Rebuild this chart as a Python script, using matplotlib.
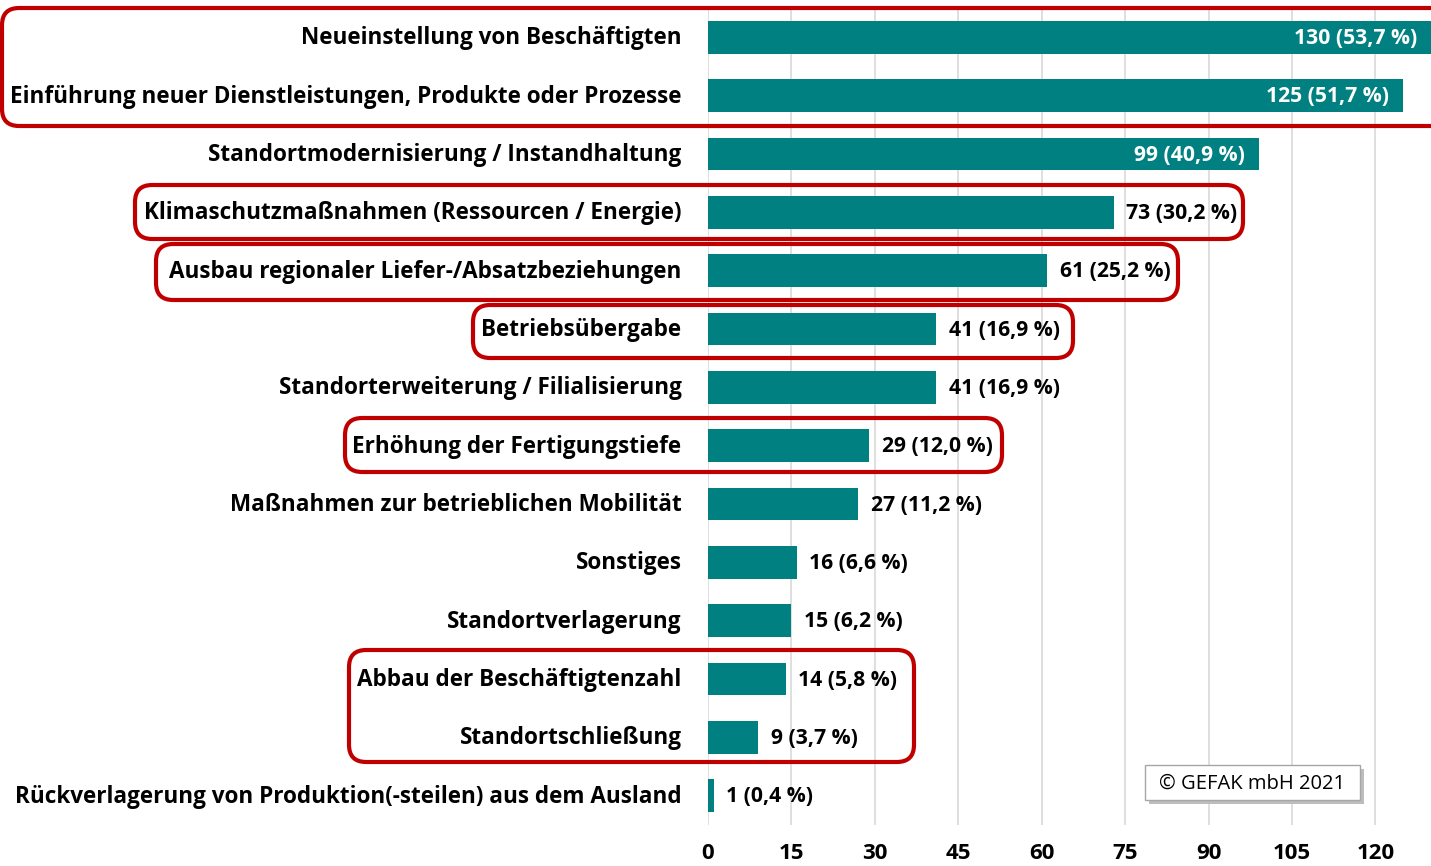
import matplotlib
matplotlib.use("Agg")
import matplotlib.pyplot as plt
from matplotlib.patches import FancyBboxPatch
from matplotlib.textpath import TextPath
from matplotlib.font_manager import FontProperties
from matplotlib.transforms import ScaledTranslation

categories = [
    "Neueinstellung von Beschäftigten",
    "Einführung neuer Dienstleistungen, Produkte oder Prozesse",
    "Standortmodernisierung / Instandhaltung",
    "Klimaschutzmaßnahmen (Ressourcen / Energie)",
    "Ausbau regionaler Liefer-/Absatzbeziehungen",
    "Betriebsübergabe",
    "Standorterweiterung / Filialisierung",
    "Erhöhung der Fertigungstiefe",
    "Maßnahmen zur betrieblichen Mobilität",
    "Sonstiges",
    "Standortverlagerung",
    "Abbau der Beschäftigtenzahl",
    "Standortschließung",
    "Rückverlagerung von Produktion(-steilen) aus dem Ausland",
]
counts = [130, 125, 99, 73, 61, 41, 41, 29, 27, 16, 15, 14, 9, 1]
percents = [53.7, 51.7, 40.9, 30.2, 25.2, 16.9, 16.9, 12.0, 11.2, 6.6, 6.2, 5.8, 3.7, 0.4]
xticks = [0, 15, 30, 45, 60, 75, 90, 105, 120]

TEAL = "#008080"
RED = "#C00000"
FONT = "Open Sans"


def fit_size(text, target_px, weight="bold"):
    fp = FontProperties(family=FONT, weight=weight, size=10)
    w = TextPath((0, 0), text, prop=fp).get_extents().width  # in points at size 10
    return 10 * target_px / (w * 100 / 72)


W, H = 1431, 866
fig = plt.figure(figsize=(W / 100, H / 100), dpi=100)
ax = fig.add_axes([708 / W, 1 - 825 / H, 1 - 708 / W, (825 - 8) / H])

cat_fs = fit_size(categories[1], 670)
val_fs = fit_size("130 (53,7 %)", 121)
tick_fs = fit_size("120", 36)
copy_fs = fit_size("© GEFAK mbH 2021", 180, weight="normal")

y = list(range(len(categories)))
ax.barh(y, counts, height=0.56, color=TEAL, zorder=2)
ax.set_ylim(len(categories) - 0.5, -0.5)
ax.set_xlim(0, 130)
ax.set_xticks(xticks)
ax.set_xticklabels([str(t) for t in xticks], fontfamily=FONT, fontweight="bold", fontsize=tick_fs)
ax.set_yticks(y)
ax.set_yticklabels(categories, fontfamily=FONT, fontweight="bold", fontsize=cat_fs)
ax.tick_params(axis="both", length=0)
ax.tick_params(axis="x", pad=13)
ax.tick_params(axis="y", pad=19)
shift = ScaledTranslation(0, 2 / 100, fig.dpi_scale_trans)
for lab in ax.get_yticklabels():
    lab.set_transform(lab.get_transform() + shift)
for s in ax.spines.values():
    s.set_visible(False)
ax.grid(axis="x", color="#d9d9d9", linewidth=1.2, zorder=0)
ax.set_axisbelow(True)

for yi, c, p in zip(y, counts, percents):
    txt = f"{c} ({p:.1f} %)".replace(".", ",")
    if c >= 90:
        ax.annotate(txt, (c, yi), xytext=(-10, -0.8), textcoords="offset points",
                    ha="right", va="center", color="white", fontfamily=FONT,
                    fontweight="bold", fontsize=val_fs)
    else:
        ax.annotate(txt, (c, yi), xytext=(9, -0.8), textcoords="offset points",
                    ha="left", va="center", color="black", fontfamily=FONT,
                    fontweight="bold", fontsize=val_fs)

# red highlight boxes (pixel coordinates from top-left)
boxes = [
    (2, 8, 1450, 126),
    (135, 185, 1243, 239),
    (156, 244, 1178, 300),
    (473, 305, 1073, 358),
    (345, 418, 1002, 472),
    (349, 650, 914, 762),
]
for x0, y0, x1, y1 in boxes:
    p = FancyBboxPatch((x0 / W, 1 - y1 / H), (x1 - x0) / W, (y1 - y0) / H,
                       boxstyle="round,pad=0,rounding_size=0.012",
                       transform=fig.transFigure, fill=False, edgecolor=RED,
                       linewidth=3, mutation_aspect=W / H, zorder=10)
    fig.add_artist(p)

# copyright box with shadow
bx0, by0, bx1, by1 = 1145, 765, 1360, 800
sh = FancyBboxPatch(((bx0 + 4) / W, 1 - (by1 + 4) / H), (bx1 - bx0) / W, (by1 - by0) / H,
                    boxstyle="square,pad=0", transform=fig.transFigure,
                    facecolor="#bdbdbd", edgecolor="none", zorder=8)
fig.add_artist(sh)
bx = FancyBboxPatch((bx0 / W, 1 - by1 / H), (bx1 - bx0) / W, (by1 - by0) / H,
                    boxstyle="square,pad=0", transform=fig.transFigure,
                    facecolor="white", edgecolor="#a6a6a6", linewidth=1, zorder=9)
fig.add_artist(bx)
fig.text((bx0 + bx1) / 2 / W, 1 - (by0 + by1 + 3) / 2 / H, "© GEFAK mbH 2021",
         ha="center", va="center", fontfamily=FONT, fontsize=copy_fs, zorder=11)

fig.savefig("out.png", dpi=100)
